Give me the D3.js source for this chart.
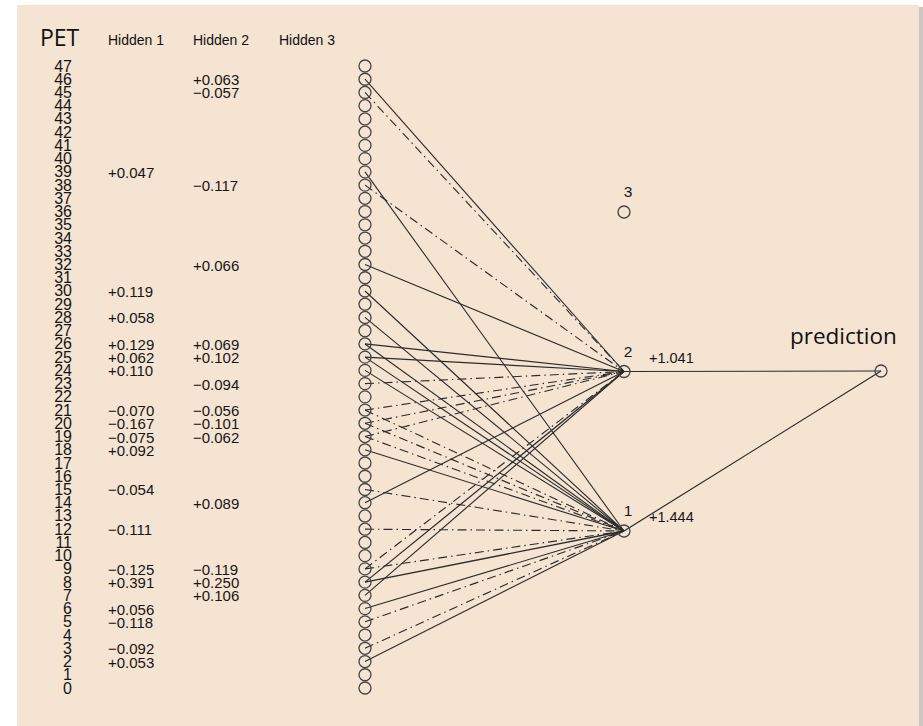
<!DOCTYPE html>
<html>
<head>
<meta charset="utf-8">
<script src="https://cdn.jsdelivr.net/npm/d3@7"></script>
<style>
  html, body { margin: 0; padding: 0; background: #ffffff; }
  svg { display: block; }
</style>
</head>
<body>
<div id="chart"></div>
<script>
// ---- data ----
const inputNodes = [0,1,2,3,4,5,6,7,8,9,10,11,12,13,14,15,16,17,18,19,20,21,22,23,24,25,26,27,28,29,30,31,32,33,34,35,36,37,38,39,40,41,42,43,44,45,46,47];
const hiddenNodes = [1, 2, 3];
const headers = ["PET", "Hidden 1", "Hidden 2", "Hidden 3"];
const outputLabel = "prediction";

const h1Inputs  = [39, 30, 28, 26, 25, 24, 21, 20, 19, 18, 15, 12, 9, 8, 6, 5, 3, 2];
const h1Weights = [0.047, 0.119, 0.058, 0.129, 0.062, 0.110, -0.070, -0.167, -0.075, 0.092, -0.054, -0.111, -0.125, 0.391, 0.056, -0.118, -0.092, 0.053];
const h2Inputs  = [46, 45, 38, 32, 26, 25, 23, 21, 20, 19, 14, 9, 8, 7];
const h2Weights = [0.063, -0.057, -0.117, 0.066, 0.069, 0.102, -0.094, -0.056, -0.101, -0.062, 0.089, -0.119, 0.250, 0.106];
const outHidden  = [1, 2];
const outWeights = [1.444, 1.041];

// ---- layout ----
const W = 923, H = 726;
const svg = d3.select("#chart").append("svg").attr("width", W).attr("height", H);

svg.append("rect").attr("x", 919).attr("y", 7).attr("width", 4).attr("height", H).attr("fill", "#c9c6c3");
svg.append("rect").attr("x", 17).attr("y", 5).attr("width", 902).attr("height", H - 5).attr("fill", "#f5e4d2");

const yIn = d3.scaleLinear().domain([0, 47]).range([688, 66]);
const yHid = d3.scaleLinear().domain([1, 3]).range([531, 212]);
const xIn = 365, xHid = 624, xOut = 881, yOut = 371;

const fmt = v => (v >= 0 ? "+" : "\u2212") + d3.format(".3f")(Math.abs(v));
const lineColor = "#2b2b2b";
const dashNeg = "9,4,1.5,4";
const textFont = "Liberation Sans, Arial, sans-serif";
const textColor = "#161616";

// connections input -> hidden
const conns = [];
h1Inputs.forEach((n, i) => conns.push({ from: n, to: 1, w: h1Weights[i] }));
h2Inputs.forEach((n, i) => conns.push({ from: n, to: 2, w: h2Weights[i] }));

const gLinks = svg.append("g");
gLinks.selectAll("line.ih").data(conns).join("line")
  .attr("x1", xIn).attr("y1", d => yIn(d.from))
  .attr("x2", xHid).attr("y2", d => yHid(d.to))
  .attr("stroke", lineColor)
  .attr("stroke-width", d => 1.05 + Math.abs(d.w) * 0.8)
  .attr("stroke-dasharray", d => d.w < 0 ? dashNeg : null);

// hidden -> output
gLinks.selectAll("line.ho").data(outHidden).join("line")
  .attr("x1", xHid).attr("y1", d => yHid(d))
  .attr("x2", xOut).attr("y2", yOut)
  .attr("stroke", lineColor)
  .attr("stroke-width", 1.2)
  .attr("stroke-dasharray", (d, i) => outWeights[i] < 0 ? dashNeg : null);

// nodes
const nodeStroke = "#444";
svg.append("g").selectAll("circle").data(inputNodes).join("circle")
  .attr("cx", xIn).attr("cy", d => yIn(d)).attr("r", 6)
  .attr("fill", "none").attr("stroke", nodeStroke).attr("stroke-width", 1.3);
svg.append("g").selectAll("circle").data(hiddenNodes).join("circle")
  .attr("cx", xHid).attr("cy", d => yHid(d)).attr("r", 6)
  .attr("fill", "none").attr("stroke", nodeStroke).attr("stroke-width", 1.3);
svg.append("circle").attr("cx", xOut).attr("cy", yOut).attr("r", 6)
  .attr("fill", "none").attr("stroke", nodeStroke).attr("stroke-width", 1.3);

// hidden node labels
svg.append("g").selectAll("text").data(hiddenNodes).join("text")
  .attr("x", xHid + 4).attr("y", d => yHid(d) - 15)
  .attr("text-anchor", "middle")
  .attr("font-family", textFont).attr("font-size", 15.5)
  .attr("fill", textColor).text(d => d);

// output weight labels
svg.append("g").selectAll("text").data(outHidden).join("text")
  .attr("x", 649).attr("y", d => yHid(d) - 9)
  .attr("font-family", textFont).attr("font-size", 14.5)
  .attr("fill", textColor).text((d, i) => fmt(outWeights[i]));

// headers
const hdrX = [40, 108, 193, 279];
svg.append("g").selectAll("text").data(headers).join("text")
  .attr("x", (d, i) => hdrX[i]).attr("y", (d, i) => i === 0 ? 46 : 45)
  .attr("font-family", (d, i) => i === 0 ? "Open Sans, sans-serif" : textFont)
  .attr("font-size", (d, i) => i === 0 ? 23 : 14)
  .attr("fill", "#111").text(d => d);

svg.append("text").attr("x", 790).attr("y", 344)
  .attr("font-family", "Open Sans, sans-serif").attr("font-size", 22.5)
  .attr("fill", "#111").text(outputLabel);

// input labels
svg.append("g").selectAll("text").data(inputNodes).join("text")
  .attr("x", 72).attr("y", d => yIn(d) + 5.5)
  .attr("text-anchor", "end")
  .attr("font-family", textFont).attr("font-size", 16)
  .attr("fill", textColor).text(d => d);

// weight columns
svg.append("g").selectAll("text").data(h1Inputs).join("text")
  .attr("x", 108).attr("y", d => yIn(d) + 6)
  .attr("font-family", textFont).attr("font-size", 15)
  .attr("fill", textColor).text((d, i) => fmt(h1Weights[i]));
svg.append("g").selectAll("text").data(h2Inputs).join("text")
  .attr("x", 193).attr("y", d => yIn(d) + 6)
  .attr("font-family", textFont).attr("font-size", 15)
  .attr("fill", textColor).text((d, i) => fmt(h2Weights[i]));
</script>
</body>
</html>
